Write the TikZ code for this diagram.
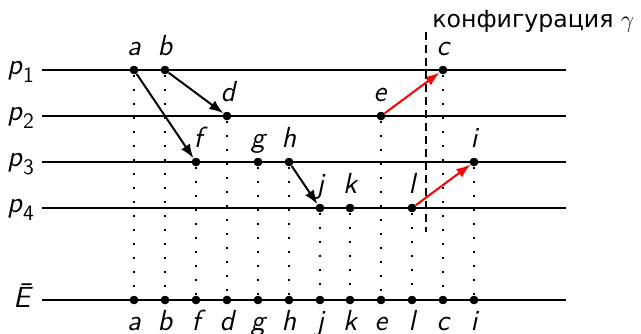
\documentclass[tikz,border=0pt]{standalone}
\usepackage{fontspec}
\newfontfamily\cyrfont{DejaVu Sans}
\usetikzlibrary{arrows.meta}
\newcommand{\psub}[1]{\textit{p}\raisebox{-0.3em}{\fontsize{11}{12}\selectfont #1}}
\tikzset{
  proc/.style={line width=1pt},
  ev/.style={circle,fill=black,inner sep=0pt,minimum size=4.2pt},
  lbl/.style={font=\fontsize{14.5}{17}\selectfont\sffamily\itshape,inner sep=0pt,anchor=base},
  plbl/.style={font=\fontsize{14.5}{17}\selectfont\sffamily,inner sep=0pt,anchor=base west},
  msg/.style={line width=1pt,-{Latex[length=7pt,width=5.2pt]}},
  vdot/.style={line width=0.9pt,dash pattern=on 1.4pt off 5.6pt},
  cut/.style={line width=0.8pt,dash pattern=on 4pt off 2.5pt},
}
\begin{document}
\begin{tikzpicture}[x=0.5pt,y=-0.5pt]
\useasboundingbox (0,0) rectangle (641,333);
% process lines
\foreach \n/\y in {1/70,2/116,3/162,4/208,E/300}{
  \coordinate (s\n) at (42,\y);
  \coordinate (t\n) at (566,\y);
}
% events
\node[ev] (a) at (134,70) {};
\node[ev] (b) at (165,70) {};
\node[ev] (c) at (443,70) {};
\node[ev] (d) at (227,116) {};
\node[ev] (e) at (381,116) {};
\node[ev] (f) at (196,162) {};
\node[ev] (g) at (258,162) {};
\node[ev] (h) at (289,162) {};
\node[ev] (i) at (474,162) {};
\node[ev] (j) at (320,208) {};
\node[ev] (k) at (350,208) {};
\node[ev] (l) at (412,208) {};
% bottom events
\foreach \m/\x in {a/134,b/165,f/196,d/227,g/258,h/289,j/320,k/350,e/381,l/412,c/443,i/474}{
  \node[ev] (B\m) at (\x,300) {};
  \node[lbl] (BL\m) at (\x,330) {\m};
}
% dotted projections
\foreach \m in {a,b,c,d,e,f,g,h,i,j,k,l}{
  \draw[vdot] (\m) -- (B\m);
}
% process lines
\foreach \n in {1,2,3,4,E}{
  \draw[proc] (s\n) -- (t\n);
}
% redraw dots above lines
\foreach \m in {a,b,c,d,e,f,g,h,i,j,k,l}{
  \fill (\m) circle (2.1pt);
  \fill (B\m) circle (2.1pt);
}
% event labels
\node[lbl] (La) at (134,55) {a};
\node[lbl] (Lb) at (165,55) {b};
\node[lbl] (Lc) at (443,55) {c};
\node[lbl] (Ld) at (228,101) {d};
\node[lbl] (Le) at (380,101) {e};
\node[lbl] (Lf) at (198,147) {f};
\node[lbl] (Lg) at (258,147) {g};
\node[lbl] (Lh) at (289,147) {h};
\node[lbl] (Li) at (474,147) {i};
\node[lbl] (Lj) at (320,193) {j};
\node[lbl] (Lk) at (350,193) {k};
\node[lbl] (Ll) at (412,193) {l};
% process labels
\node[plbl] (P1) at (7,74) {\psub{1}};
\node[plbl] (P2) at (7,120) {\psub{2}};
\node[plbl] (P3) at (7,166) {\psub{3}};
\node[plbl] (P4) at (7,212) {\psub{4}};
\node[plbl] (PE) at (13,307) {\itshape Ē};
% messages
\draw[msg] (a) -- (f);
\draw[msg] (b) -- (d);
\draw[msg] (h) -- (j);
\draw[msg,red] (e) -- (c);
\draw[msg,red] (l) -- (i);
% cut
\coordinate (cutT) at (426,32);
\coordinate (cutB) at (426,232);
\draw[cut] (cutT) -- (cutB);
\node[anchor=base west,inner sep=0pt,font=\fontsize{11.8}{14}\selectfont] (conf) at (432,27) {\cyrfont конфигурация $\gamma$};
\end{tikzpicture}
\end{document}
